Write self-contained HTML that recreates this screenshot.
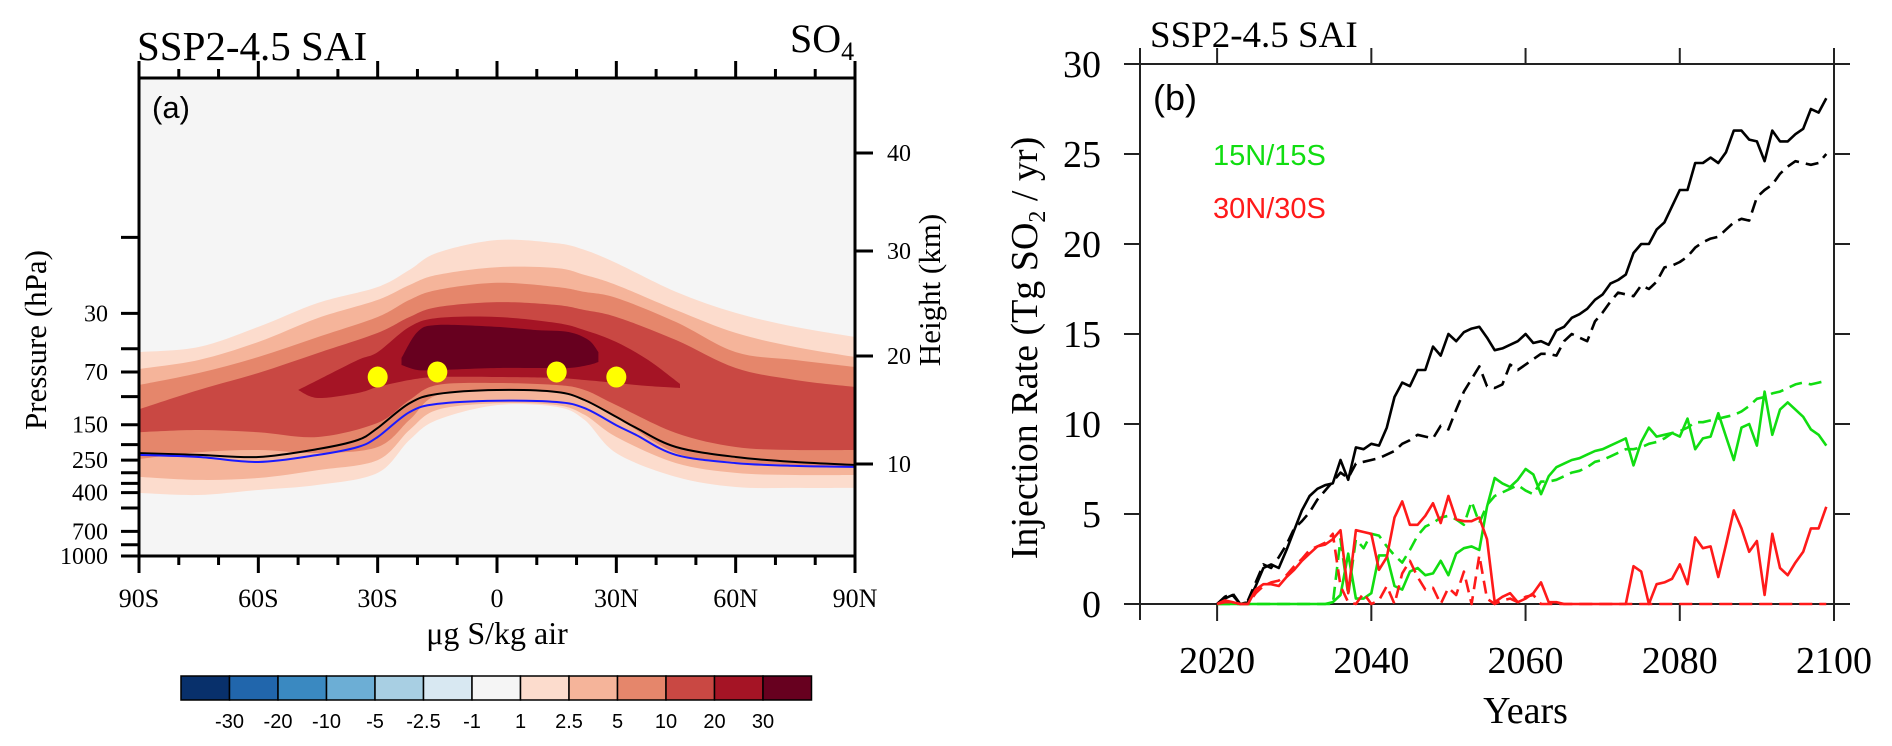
<!DOCTYPE html>
<html><head><meta charset="utf-8">
<style>
html,body{margin:0;padding:0;background:#fff;}
svg{display:block;}
.serif{font-family:"Liberation Serif","DejaVu Serif",serif;}
.sans{font-family:"Liberation Sans","DejaVu Sans",sans-serif;}
</style></head>
<body>
<svg id="fig" width="1892" height="746" viewBox="0 0 1892 746" xmlns="http://www.w3.org/2000/svg">
  <defs>
    <clipPath id="clipA"><rect x="139" y="78" width="716" height="478"/></clipPath>
  </defs>
  <g id="panelA"></g>
  <g id="panelB"></g>
</svg>
<script>
// ---------------- Panel (a) data ----------------
const bandLats = [-90,-75,-60,-45,-30,-22,-15,0,15,22,30,45,60,75,90];
const lev1Top = [52.5,48.8,36.5,25.8,20.5,16.0,12.5,10.4,10.9,12.0,14.5,22.0,29.8,36.5,42.2];
const lev1Bot = [402,414,385,358,301,187,140,113,116,140,226,319,369,374,374];
const lev2Top = [67.0,58.9,45.4,32.1,24.7,19.9,17.2,15.4,15.6,17.2,19.9,28.6,39.8,48.8,56.4];
const lev2Bot = [319,333,324,289,250,162,121,110,113,130,179,261,301,310,310];
const lev5Top = [84.5,71.0,56.4,42.2,31.6,24.7,21.4,19.3,20.5,22.0,24.0,34.0,52.5,58.9,65.1];
const lev5Bot = [246,223,216,226,207,140,97.6,90.8,93.5,105,134,226,257,268,276];
const lev10Top = [120,90.8,71.0,53.2,39.8,31.6,27.4,25.5,26.6,28.6,31.6,44.1,66.1,78.6,86.9];
const lev10Bot = [167,162,167,179,146,105,84.5,82.1,84.5,90.8,113,169,207,216,216];
const lev20Lats = [-50,-45,-35,-30,-22,-15,0,15,22,30,38,46];
const lev20Top = [90.8,78.6,58.9,52.5,36.5,32.1,31.6,34.5,38.2,45.4,58.9,83.2];
const lev20Bot = [90.8,102,94.8,86.9,78.6,75.3,75.3,76.4,78.6,82.1,85.7,88.2];
const lev30Lats = [-24,-20,-15,0,10,18,23,25.5];
const lev30Top = [57.2,39.3,35.5,36.5,38.2,39.3,44.1,52.5];
const lev30Bot = [63.3,68.0,68.0,66.1,66.1,66.1,63.3,60.6];
const lineLats = [-90,-75,-60,-45,-35,-30,-22,-15,0,15,22,30,35,45,60,75,90];
const tropBlack = [226,232,239,213,187,157,110,96.2,90.8,93.5,105,134,157,207,239,257,268];
const tropBlue = [232,239,257,232,207,179,125,111,106,108,118,151,174,232,261,272,276];
const injLats = [-30,-15,15,30];
const injPres = [75.3,70.0,70.0,75.3];
const cbLevels = ['-30','-20','-10','-5','-2.5','-1','1','2.5','5','10','20','30'];
const pTickVals = [10,30,50,70,100,150,200,250,300,350,400,500,700,850,1000];
const pTickLabels = ['30','70','150','250','400','700','1000'];
const hTickVals = [10,20,30,40];
const hTickPix = [464,356,251,153];
const latTickVals = [-90,-60,-30,0,30,60,90];
const latTickLabels = ['90S','60S','30S','0','30N','60N','90N'];

// ---------------- Panel (b) data ----------------
const years = []; for (let yr = 2020; yr <= 2099; yr++) years.push(yr);
const blackSolid = [0,0.3,0.5,0,0.1,1.0,2.0,2.2,2.0,3.0,
 4.1,5.2,6.0,6.4,6.6,6.7,8.0,6.9,8.7,8.6,
 8.9,8.8,9.8,11.5,12.3,12.1,13.0,13.0,14.3,13.8,
 15.0,14.6,15.1,15.3,15.4,14.8,14.1,14.2,14.4,14.6,
 15.0,14.5,14.6,14.4,15.2,15.4,15.9,16.1,16.4,16.9,
 17.2,17.8,18.0,18.3,19.5,20.0,20.0,20.8,21.2,22.1,
 23.0,23.0,24.5,24.5,24.8,24.5,25.1,26.3,26.3,25.8,
 25.7,24.6,26.3,25.7,25.7,26.1,26.4,27.5,27.3,28.1];
const blackDashed = [0,0.4,0.6,0,0.2,1.2,2.2,2.0,2.6,3.3,
 4.2,4.6,5.1,5.8,6.3,6.8,7.3,7.0,7.8,7.9,
 8.0,8.1,8.3,8.5,8.9,9.1,9.4,9.3,9.2,9.9,
 9.7,10.8,11.8,12.5,13.2,12.1,12.0,12.2,13.3,13.0,
 13.3,13.6,13.9,13.9,13.8,14.6,15.0,14.8,14.6,15.7,
 16.2,16.8,17.3,17.2,17.1,17.7,17.5,17.9,18.7,18.8,
 19.0,19.3,19.8,20.1,20.3,20.4,20.8,21.2,21.4,21.3,
 22.6,23.0,23.3,23.9,24.3,24.6,24.5,24.4,24.5,25.0];
const greenSolid = [0,0,0,0,0,0,0,0,0,0,
 0,0,0,0,0,0.1,0.5,2.8,0.3,0.3,
 0.6,2.7,2.7,1.0,0.8,1.8,2.0,1.6,1.7,2.4,
 1.6,2.8,3.1,3.2,3.0,5.4,7.0,6.7,6.5,6.9,
 7.5,7.2,6.1,7.1,7.6,7.8,8.0,8.1,8.3,8.5,
 8.6,8.8,9.0,9.2,7.7,9.0,9.8,9.3,9.4,9.5,
 9.3,10.3,8.6,9.2,9.3,10.6,9.3,8.0,9.8,10.0,
 8.8,11.8,9.4,10.8,11.2,10.8,10.4,9.7,9.4,8.8];
const greenDashed = [0,0,0,0,0,0,0,0,0,0,
 0,0,0,0,0,0,3.6,0.5,3.6,3.1,
 3.9,3.8,3.2,2.7,2.3,3.0,3.8,4.3,4.5,4.8,
 4.9,4.7,4.4,5.7,4.5,5.5,6.0,6.2,6.4,6.6,
 6.3,6.1,6.8,6.8,6.9,7.1,7.3,7.4,7.6,7.9,
 8.0,8.2,8.4,8.6,8.6,8.7,8.9,9.0,9.2,9.5,
 9.6,9.8,10.1,10.1,10.2,10.3,10.4,10.5,10.7,11.0,
 11.4,11.5,11.7,11.8,12.0,12.2,12.3,12.2,12.3,12.4];
const redSolid = [0,0.2,0.1,0,0,0.8,1.1,1.1,1.0,1.5,
 1.9,2.4,2.8,3.2,3.3,3.6,4.1,0.6,4.1,4.0,
 3.9,1.9,2.6,4.8,5.7,4.4,4.4,4.9,5.6,4.5,
 6.0,4.7,4.6,4.6,4.8,3.6,0.1,0.4,0.6,0.1,
 0.3,0.6,1.2,0.1,0.1,0,0,0,0,0,
 0,0,0,0,2.1,1.8,0,1.1,1.2,1.4,
 2.2,1.1,3.7,3.1,3.2,1.5,3.3,5.2,4.2,2.9,
 3.5,0.5,3.9,2.0,1.6,2.3,2.9,4.2,4.2,5.4];
const redDashed = [0,0.1,0.1,0,0,0.6,1.0,1.2,1.3,1.6,
 2.1,2.5,3.0,3.2,3.4,3.9,1.0,0.1,0,0.6,
 0,0.2,1.0,0,1.7,2.4,1.5,0.8,0.9,0,
 0.9,0.5,1.8,0,2.7,0.3,0,0.2,0.3,0.1,
 0.4,0.5,0,0,0,0,0,0,0,0,
 0,0,0,0,0,0,0,0,0,0,
 0,0,0,0,0,0,0,0,0,0,
 0,0,0,0,0,0,0,0,0,0];
const xTickYears = [2020,2040,2060,2080,2100];
const yTickVals = [0,5,10,15,20,25,30];

// ---------------- helpers ----------------
const NS = 'http://www.w3.org/2000/svg';
function mk(tag, attrs, parent, text) {
  const el = document.createElementNS(NS, tag);
  for (const k in attrs) el.setAttribute(k, attrs[k]);
  if (text !== undefined) el.textContent = text;
  parent.appendChild(el);
  return el;
}
const AX0 = 139, AX1 = 855, AY0 = 78, AY1 = 556;
const latX = lat => AX0 + (lat + 90) / 180 * (AX1 - AX0);
const presY = p => AY0 + (AY1 - AY0) * Math.log(p) / Math.log(1000);
const BX0 = 1140, BX1 = 1834, BY0 = 64, BY1 = 604;
const yrX = y => BX0 + (y - 2010) / 90 * (BX1 - BX0);
const valY = v => BY1 - v / 30 * (BY1 - BY0);

function smoothPath(pts, move) {
  let d = (move ? 'M' : 'L') + pts[0][0].toFixed(1) + ',' + pts[0][1].toFixed(1);
  for (let i = 0; i < pts.length - 1; i++) {
    const p0 = pts[Math.max(0, i - 1)], p1 = pts[i], p2 = pts[i + 1], p3 = pts[Math.min(pts.length - 1, i + 2)];
    const c1 = [p1[0] + (p2[0] - p0[0]) / 6, p1[1] + (p2[1] - p0[1]) / 6];
    const c2 = [p2[0] - (p3[0] - p1[0]) / 6, p2[1] - (p3[1] - p1[1]) / 6];
    d += 'C' + c1[0].toFixed(1) + ',' + c1[1].toFixed(1) + ' ' + c2[0].toFixed(1) + ',' + c2[1].toFixed(1) + ' ' + p2[0].toFixed(1) + ',' + p2[1].toFixed(1);
  }
  return d;
}
function bandPath(lats, top, bot) {
  const t = lats.map((l, i) => [latX(l), presY(top[i])]);
  const b = lats.map((l, i) => [latX(l), presY(bot[i])]).reverse();
  return smoothPath(t, true) + smoothPath(b, false) + 'Z';
}

// ---------------- Panel (a) ----------------
const A = document.getElementById('panelA');
const bg = mk('rect', {x: AX0, y: AY0, width: AX1 - AX0, height: AY1 - AY0, fill: '#f5f5f5'}, A);


const cg = mk('g', {'clip-path': 'url(#clipA)'}, A);


const bands = [
  ['contour-1', bandLats, lev1Top, lev1Bot, '#fcdccd'],
  ['contour-2-5', bandLats, lev2Top, lev2Bot, '#f5b49a'],
  ['contour-5', bandLats, lev5Top, lev5Bot, '#e5866b'],
  ['contour-10', bandLats, lev10Top, lev10Bot, '#c94843'],
  ['contour-20', lev20Lats, lev20Top, lev20Bot, '#a51425'],
  ['contour-30', lev30Lats, lev30Top, lev30Bot, '#67001f']
];
bands.forEach(b => {
  const p = mk('path', {d: bandPath(b[1], b[2], b[3]), fill: b[4]}, cg);
  
  
});
const tb = mk('path', {d: smoothPath(lineLats.map((l, i) => [latX(l), presY(tropBlack[i])]), true), fill: 'none', stroke: '#000', 'stroke-width': 2}, cg);


const tbl = mk('path', {d: smoothPath(lineLats.map((l, i) => [latX(l), presY(tropBlue[i])]), true), fill: 'none', stroke: '#1a1aff', 'stroke-width': 2}, cg);


injLats.forEach((l, i) => {
  const c = mk('ellipse', {cx: latX(l), cy: presY(injPres[i]), rx: 10, ry: 10.5, fill: '#ffff00'}, A);
  
  
});
const fr = mk('rect', {x: AX0, y: AY0, width: AX1 - AX0, height: AY1 - AY0, fill: 'none', stroke: '#000', 'stroke-width': 3}, A);


for (let l = -90; l <= 90; l += 10) {
  const major = l % 30 === 0;
  const len = major ? 17 : 9;
  mk('line', {x1: latX(l), x2: latX(l), y1: AY0, y2: AY0 - len, stroke: '#000', 'stroke-width': 3}, A);
  mk('line', {x1: latX(l), x2: latX(l), y1: AY1, y2: AY1 + len, stroke: '#000', 'stroke-width': 3}, A);
}
latTickVals.forEach((l, i) => {
  const t = mk('text', {x: latX(l), y: 607, 'text-anchor': 'middle', 'font-size': 26, class: 'serif'}, A, latTickLabels[i]);
  
  
});
pTickVals.forEach(p => {
  mk('line', {x1: AX0, x2: AX0 - 18, y1: presY(p), y2: presY(p), stroke: '#000', 'stroke-width': 3}, A);
});
pTickLabels.forEach(s => {
  const t = mk('text', {x: 108, y: presY(+s) + 8, 'text-anchor': 'end', 'font-size': 24, class: 'serif'}, A, s);
  
  
});
hTickVals.forEach((h, i) => {
  mk('line', {x1: AX1, x2: AX1 + 18, y1: hTickPix[i], y2: hTickPix[i], stroke: '#000', 'stroke-width': 3}, A);
  const t = mk('text', {x: 887, y: hTickPix[i] + 8, 'font-size': 24, class: 'serif'}, A, String(h));
  
  
});
let t;
t = mk('text', {x: 137, y: 60, 'font-size': 41, class: 'serif'}, A, 'SSP2-4.5 SAI');
 
t = mk('text', {x: 790, y: 52, 'font-size': 40, class: 'serif'}, A, 'SO');
 
mk('tspan', {dy: 8, 'font-size': 26}, t, '4');
t = mk('text', {x: 152, y: 118, 'font-size': 31, class: 'sans'}, A, '(a)');
 
t = mk('text', {x: 0, y: 0, 'font-size': 31, class: 'serif', 'text-anchor': 'middle', transform: 'translate(46,340) rotate(-90)'}, A, 'Pressure (hPa)');
 
t = mk('text', {x: 0, y: 0, 'font-size': 31, class: 'serif', 'text-anchor': 'middle', transform: 'translate(940,290) rotate(-90)'}, A, 'Height (km)');
 
t = mk('text', {x: 497, y: 644, 'font-size': 32, class: 'serif', 'text-anchor': 'middle'}, A, 'μg S/kg air');
 
const cbColors = ['#08306b','#2166ac','#3a89c1','#6caed5','#a8cfe3','#d8e8f2','#f5f5f5','#fcdccd','#f5b49a','#e5866b','#c94843','#a51425','#67001f'];
const cbG = mk('g', {}, A);


const CBX = 181, CBW = 48.5;
cbColors.forEach((c, i) => {
  const r = mk('rect', {x: CBX + i * CBW, y: 676, width: CBW, height: 24, fill: c, stroke: '#000', 'stroke-width': 1.5}, cbG);
  
  
});
cbLevels.forEach((s, i) => {
  const tt = mk('text', {x: CBX + (i + 1) * CBW, y: 728, 'font-size': 20, class: 'sans', 'text-anchor': 'middle'}, cbG, s);
  
  
});

// ---------------- Panel (b) ----------------
const B = document.getElementById('panelB');
const fb = mk('rect', {x: BX0, y: BY0, width: BX1 - BX0, height: BY1 - BY0, fill: 'none', stroke: '#222', 'stroke-width': 2}, B);


mk('line', {x1: 1124, x2: 1850, y1: BY0, y2: BY0, stroke: '#222', 'stroke-width': 2}, B);
mk('line', {x1: 1124, x2: 1850, y1: BY1, y2: BY1, stroke: '#222', 'stroke-width': 2}, B);
mk('line', {x1: BX0, x2: BX0, y1: 48, y2: 620, stroke: '#222', 'stroke-width': 2}, B);
mk('line', {x1: BX1, x2: BX1, y1: 48, y2: 620, stroke: '#222', 'stroke-width': 2}, B);
xTickYears.forEach(y => {
  mk('line', {x1: yrX(y), x2: yrX(y), y1: BY1, y2: BY1 + 17, stroke: '#222', 'stroke-width': 2}, B);
  mk('line', {x1: yrX(y), x2: yrX(y), y1: BY0, y2: BY0 - 16, stroke: '#222', 'stroke-width': 2}, B);
  const tt = mk('text', {x: yrX(y), y: 673, 'font-size': 38, class: 'serif', 'text-anchor': 'middle'}, B, String(y));
  
  
});
yTickVals.forEach(v => {
  mk('line', {x1: BX0, x2: BX0 - 16, y1: valY(v), y2: valY(v), stroke: '#222', 'stroke-width': 2}, B);
  mk('line', {x1: BX1, x2: BX1 + 16, y1: valY(v), y2: valY(v), stroke: '#222', 'stroke-width': 2}, B);
  const tt = mk('text', {x: 1101, y: valY(v) + 13, 'font-size': 38, class: 'serif', 'text-anchor': 'end'}, B, String(v));
  
  
});
const series = [
  ['total-control-line', blackSolid, '#000', null],
  ['total-dashed-line', blackDashed, '#000', '13 7'],
  ['15n15s-solid-line', greenSolid, '#11dd11', null],
  ['15n15s-dashed-line', greenDashed, '#11dd11', '13 7'],
  ['30n30s-solid-line', redSolid, '#ff1a1a', null],
  ['30n30s-dashed-line', redDashed, '#ff1a1a', '13 7']
];
series.forEach(s => {
  const pts = years.map((y, i) => yrX(y).toFixed(1) + ',' + valY(s[1][i]).toFixed(1)).join(' ');
  const attrs = {points: pts, fill: 'none', stroke: s[2], 'stroke-width': 2.6, 'stroke-linejoin': 'round'};
  if (s[3]) attrs['stroke-dasharray'] = s[3];
  const pl = mk('polyline', attrs, B);
  
  
});
t = mk('text', {x: 1150, y: 47, 'font-size': 37, class: 'serif'}, B, 'SSP2-4.5 SAI');
 
t = mk('text', {x: 1153, y: 110, 'font-size': 36, class: 'sans'}, B, '(b)');
 
t = mk('text', {x: 1213, y: 165, 'font-size': 29, class: 'sans', fill: '#11dd11'}, B, '15N/15S');
 
t = mk('text', {x: 1213, y: 218, 'font-size': 29, class: 'sans', fill: '#ff1a1a'}, B, '30N/30S');
 
t = mk('text', {x: 0, y: 0, 'font-size': 38, class: 'serif', 'text-anchor': 'middle', transform: 'translate(1037,348) rotate(-90)'}, B, 'Injection Rate (Tg SO');
 
mk('tspan', {dy: 8, 'font-size': 24}, t, '2');
mk('tspan', {dy: -8}, t, ' / yr)');
t = mk('text', {x: yrX(2060), y: 723, 'font-size': 38, class: 'serif', 'text-anchor': 'middle'}, B, 'Years');
 
</script>
</body></html>
